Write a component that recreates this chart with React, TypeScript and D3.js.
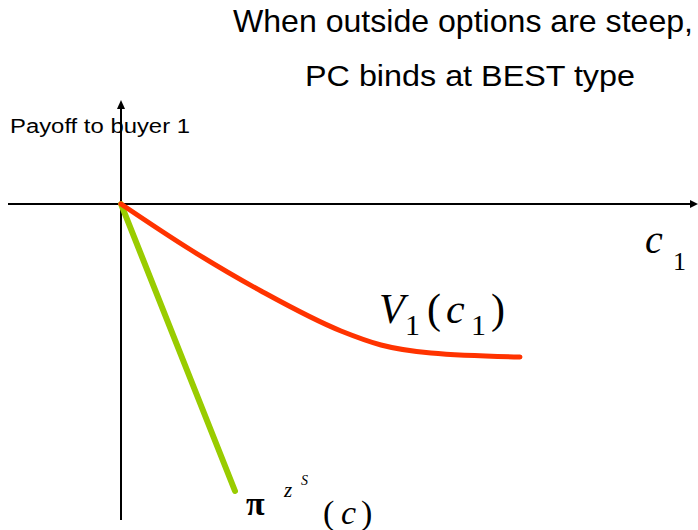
import React from "react";
import * as d3 from "d3";

// Payoff curves, in model units (origin at zero cost / zero payoff)
const valueCosts = [0, 0.7, 1.4, 2.2, 2.6, 3.1, 3.99];
const valuePayoffs = [0, -0.46, -0.87, -1.27, -1.41, -1.49, -1.53];
const outsideCosts = [0, 1.14];
const outsidePayoffs = [0, -2.87];

const W = 698;
const H = 530;

export default function App() {
  const x = d3.scaleLinear().domain([-1.13, 5.77]).range([8, 698]);
  const y = d3.scaleLinear().domain([1.04, -3.16]).range([100, 520]);

  const line = d3
    .line<[number, number]>()
    .x((d) => x(d[0]))
    .y((d) => y(d[1]))
    .curve(d3.curveMonotoneX);

  const valuePts = valueCosts.map((c, i) => [c, valuePayoffs[i]] as [number, number]);
  const outsidePts = outsideCosts.map((c, i) => [c, outsidePayoffs[i]] as [number, number]);

  const ox = x(0);
  const oy = y(0);
  const serif = "'Liberation Serif', 'Times New Roman', 'DejaVu Serif', serif";
  const sans = "'Liberation Sans', Arial, sans-serif";

  return (
    <svg
      width={W}
      height={H}
      style={{ position: "absolute", left: 0, top: 0, background: "#fff" }}
    >
      {/* title */}
      <text x={233} y={31.5} fontFamily={sans} fontSize={30.5} fill="#000"
        textLength={460} lengthAdjust="spacingAndGlyphs">
        When outside options are steep,
      </text>
      <text x={305} y={85.5} fontFamily={sans} fontSize={30} fill="#000"
        textLength={330} lengthAdjust="spacingAndGlyphs">
        PC binds at BEST type
      </text>

      {/* axes */}
      <line x1={8} y1={oy} x2={W - 4} y2={oy} stroke="#000" strokeWidth={2} />
      <path d={`M${W},${oy} L${W - 8},${oy - 4} L${W - 8},${oy + 4} Z`} fill="#000" />
      <line x1={ox} y1={y(-3.16)} x2={ox} y2={104} stroke="#000" strokeWidth={2} />
      <path d={`M${ox},${100} L${ox - 4},${109} L${ox + 4},${109} Z`} fill="#000" />

      <text x={10} y={133} fontFamily={sans} fontSize={19.5} fill="#000"
        textLength={180} lengthAdjust="spacingAndGlyphs">
        Payoff to buyer 1
      </text>

      {/* curves */}
      <path d={line(outsidePts) || ""} fill="none" stroke="#99cc00" strokeWidth={6} strokeLinecap="round" />
      <path d={line(valuePts) || ""} fill="none" stroke="#ff3300" strokeWidth={5} strokeLinecap="round" />

      {/* axis label c1 */}
      <text x={645} y={253} fontFamily={serif} fontSize={40} fontStyle="italic" fill="#000">
        c
      </text>
      <text x={673} y={270} fontFamily={serif} fontSize={26} fill="#000">
        1
      </text>

      {/* V1(c1) */}
      <g fontFamily={serif} fill="#000">
        <text x={379} y={323} fontSize={42} fontStyle="italic">V</text>
        <text x={405} y={335} fontSize={30}>1</text>
        <text x={427} y={323} fontSize={42}>(</text>
        <text x={446} y={323} fontSize={42} fontStyle="italic">c</text>
        <text x={471} y={335} fontSize={30}>1</text>
        <text x={491} y={323} fontSize={42}>)</text>
      </g>

      {/* pi^{z^S}(c) */}
      <g fontFamily={serif} fill="#000">
        <text x={246} y={515} fontSize={34} fontWeight="bold">π</text>
        <text x={284} y={497} fontSize={21} fontStyle="italic">z</text>
        <text x={301} y={485} fontSize={14} fontStyle="italic">S</text>
        <text x={323} y={524} fontSize={34}>(</text>
        <text x={341} y={524} fontSize={34} fontStyle="italic">c</text>
        <text x={361} y={524} fontSize={34}>)</text>
      </g>
    </svg>
  );
}
